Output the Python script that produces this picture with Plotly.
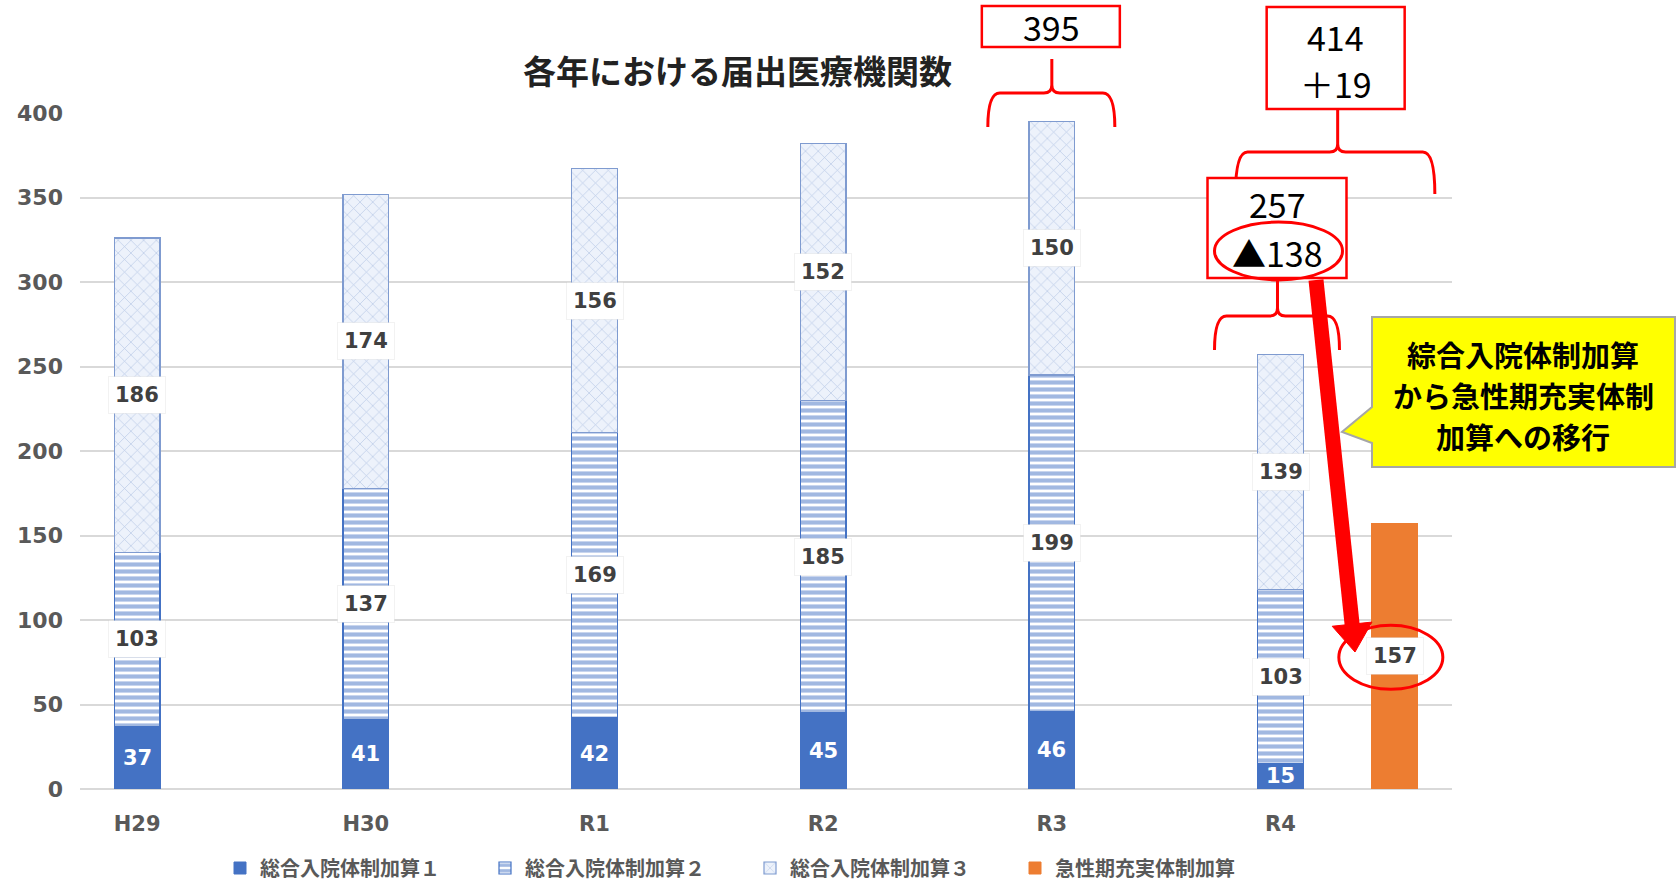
import plotly.graph_objects as go

# --- data -------------------------------------------------------------
categories = ["H29", "H30", "R1", "R2", "R3", "R4"]
kasan1 = [37, 41, 42, 45, 46, 15]
kasan2 = [103, 137, 169, 185, 199, 103]
kasan3 = [186, 174, 156, 152, 150, 139]
acute_value = [157]
series_names = ["総合入院体制加算１", "総合入院体制加算２", "総合入院体制加算３", "急性期充実体制加算"]
y_ticks = [0, 50, 100, 150, 200, 250, 300, 350, 400]

title_text = "各年における届出医療機関数"
callout_lines = ["綜合入院体制加算", "から急性期充実体制", "加算への移行"]

# --- derived values ---------------------------------------------------
positions = list(range(len(categories)))
acute_pos = positions[-1] + 0.5
totals = [a + b + c for a, b, c in zip(kasan1, kasan2, kasan3)]
total_r3 = totals[4]
total_r4 = totals[5]
combined_r4 = total_r4 + acute_value[0]

# --- geometry (pixels) -------------------------------------------------
FIG_W, FIG_H = 1677, 884
L, R, T, B = 80, 225, 113, 95
W, H = FIG_W - L - R, FIG_H - T - B
XR = [-0.25, 5.75]
YR = [0, 400]


def px_x(v):
    return L + (v - XR[0]) / (XR[1] - XR[0]) * W


def px_y(v):
    return T + H - (v - YR[0]) / (YR[1] - YR[0]) * H


def pap_x(px):
    return (px - L) / W


def pap_y(py):
    return (T + H - py) / H


def pt(x, y):
    return f"{pap_x(x):.5f},{pap_y(y):.5f}"


RED = "#FF0000"
BLUE = "#4472C4"
GREY = "#595959"
NUM_FONT = "DejaVu Sans"
JP_FONT = "Noto Sans CJK JP"

fig = go.Figure()

fig.add_bar(
    x=positions, y=kasan1, width=0.2, name=series_names[0],
    marker=dict(color=BLUE, line=dict(color=BLUE, width=1)),
    hoverinfo="skip",
)
fig.add_bar(
    x=positions, y=kasan2, width=0.2, name=series_names[1],
    marker=dict(
        color="white",
        pattern=dict(shape="-", fgcolor=BLUE, bgcolor="white", size=7, solidity=0.6),
        line=dict(color=BLUE, width=1.2),
    ),
    hoverinfo="skip",
)
fig.add_bar(
    x=positions, y=kasan3, width=0.2, name=series_names[2],
    marker=dict(
        color="#eaf0fa",
        pattern=dict(shape="x", fgcolor="#7f9bd0", bgcolor="#edf2fb", size=9, solidity=0.14),
        line=dict(color="#7f9bd0", width=1.2),
    ),
    hoverinfo="skip",
)
fig.add_bar(
    x=[acute_pos], y=acute_value, width=0.2, name=series_names[3],
    marker=dict(color="#ED7D31", line=dict(color="#ED7D31", width=1)),
    hoverinfo="skip",
)

annotations = []


def paper_text(x, y, text, font, **kw):
    annotations.append(dict(x=pap_x(x), y=pap_y(y), xref="paper", yref="paper", text=text,
                            showarrow=False, font=font, xanchor="center", yanchor="middle", **kw))


# value labels on the bars
box_font = dict(family=NUM_FONT, size=21, color="#404040", weight="bold")
box_style = dict(bgcolor="white", borderpad=6, bordercolor="rgba(0,0,0,0.05)", borderwidth=1)
for i, p in enumerate(positions):
    annotations.append(dict(
        x=p, y=kasan1[i] / 2, xref="x", yref="y", text=str(kasan1[i]), showarrow=False,
        font=dict(family=NUM_FONT, size=21, color="white", weight="bold"),
    ))
    annotations.append(dict(
        x=p, y=kasan1[i] + kasan2[i] / 2, xref="x", yref="y", text=str(kasan2[i]),
        showarrow=False, font=box_font, **box_style,
    ))
    annotations.append(dict(
        x=p, y=kasan1[i] + kasan2[i] + kasan3[i] / 2, xref="x", yref="y", text=str(kasan3[i]),
        showarrow=False, font=box_font, **box_style,
    ))
annotations.append(dict(
    x=acute_pos, y=acute_value[0] / 2, xref="x", yref="y", text=str(acute_value[0]),
    showarrow=False, font=box_font, **box_style,
))

# chart title
paper_text(737, 70, title_text, dict(family=JP_FONT, size=33, color="#222222", weight="bold"))

shapes = []


def brace(x0, x1, xc, y_bar, y_end, y_peak, r=12, r2=8):
    path = (
        f"M {pt(x0, y_end)} Q {pt(x0, y_bar)} {pt(x0 + r, y_bar)} "
        f"L {pt(xc - r2, y_bar)} Q {pt(xc, y_bar)} {pt(xc, y_bar - r2)} "
        f"L {pt(xc, y_peak)} M {pt(xc, y_bar - r2)} "
        f"Q {pt(xc, y_bar)} {pt(xc + r2, y_bar)} "
        f"L {pt(x1 - r, y_bar)} Q {pt(x1, y_bar)} {pt(x1, y_end)}"
    )
    shapes.append(dict(type="path", xref="paper", yref="paper", path=path,
                       line=dict(color=RED, width=3), layer="above"))


def red_box(x0, x1, y0, y1):
    shapes.append(dict(type="rect", xref="paper", yref="paper",
                       x0=pap_x(x0), x1=pap_x(x1), y0=pap_y(y1), y1=pap_y(y0),
                       line=dict(color=RED, width=2.5), fillcolor="white", layer="above"))


def ellipse(cx, cy, rx, ry):
    shapes.append(dict(type="circle", xref="paper", yref="paper",
                       x0=pap_x(cx - rx), x1=pap_x(cx + rx), y0=pap_y(cy + ry), y1=pap_y(cy - ry),
                       line=dict(color=RED, width=3), layer="above"))


big_font = dict(family=JP_FONT, size=34, color="black")

# R3 total
cx3 = px_x(positions[4])
brace(cx3 - 64, cx3 + 63, cx3, 93, 127, 59)
red_box(cx3 - 70, cx3 + 68, 6, 47)
paper_text(cx3, 27, str(total_r3), big_font)

# R4 combined total
cx4 = px_x(positions[5])
cxo = px_x(acute_pos)
cxm = (cx4 + cxo) / 2
brace(cx4 - 45, cxo + 40, cxm, 152, 194, 110)
red_box(cxm - 71, cxm + 67, 7, 109)
paper_text(cxm - 2, 36, str(combined_r4), big_font)
paper_text(cxm - 2, 83, f"＋{combined_r4 - total_r3}", big_font)

# R4 total and decrease
brace(cx4 - 66, cx4 + 59, cx4 - 3, 316, 350, 280)
red_box(cx4 - 73, cx4 + 66, 178, 278)
paper_text(cx4 - 3, 204, str(total_r4), big_font)
paper_text(cx4 - 3, 252, f"▲{total_r3 - total_r4}", big_font)
ellipse(cx4 - 2, 251, 64, 29)

# circle around the acute-care label
ellipse(cxo - 4, px_y(acute_value[0] / 2) + 1, 52, 32)

# thick red arrow
sx, sy = 1316, 280
tx, ty = 1355, 652
dx, dy = tx - sx, ty - sy
ln = (dx ** 2 + dy ** 2) ** 0.5
ux, uy = dx / ln, dy / ln
head_len, head_half = 28, 20
bx, by = tx - head_len * ux, ty - head_len * uy
shapes.append(dict(type="line", xref="paper", yref="paper",
                   x0=pap_x(sx), y0=pap_y(sy), x1=pap_x(bx + 2 * ux), y1=pap_y(by + 2 * uy),
                   line=dict(color=RED, width=15), layer="above"))
shapes.append(dict(type="path", xref="paper", yref="paper",
                   path=(f"M {pt(tx, ty)} L {pt(bx - head_half * uy, by + head_half * ux)} "
                         f"L {pt(bx + head_half * uy, by - head_half * ux)} Z"),
                   fillcolor=RED, line=dict(color=RED, width=1), layer="above"))

# yellow callout
shapes.append(dict(type="path", xref="paper", yref="paper",
                   path=(f"M {pt(1372, 317)} L {pt(1675, 317)} L {pt(1675, 467)} "
                         f"L {pt(1372, 467)} L {pt(1372, 443)} L {pt(1342, 432)} "
                         f"L {pt(1372, 407)} Z"),
                   fillcolor="#FFFF00", line=dict(color="#A6A6A6", width=2), layer="above"))
callout_font = dict(family=JP_FONT, size=29, color="black", weight="bold")
for k, line in enumerate(callout_lines):
    paper_text(1523, 354 + 41 * k, line, callout_font)

fig.update_layout(
    width=FIG_W, height=FIG_H,
    margin=dict(l=L, r=R, t=T, b=B, pad=0, autoexpand=False),
    paper_bgcolor="white", plot_bgcolor="white",
    barmode="stack",
    showlegend=True,
    legend=dict(
        orientation="h", x=pap_x(220), xanchor="left", y=pap_y(868), yanchor="middle",
        entrywidth=220, entrywidthmode="pixels", itemwidth=30, traceorder="normal",
        font=dict(family=JP_FONT, size=20, color=GREY, weight="bold"),
        bgcolor="rgba(0,0,0,0)",
    ),
    xaxis=dict(
        range=XR, tickvals=positions, ticktext=categories, showgrid=False, zeroline=False,
        showline=False, ticks="", ticklabelstandoff=20,
        tickfont=dict(family=NUM_FONT, size=21, color=GREY, weight="bold"),
    ),
    yaxis=dict(
        range=YR, tickvals=y_ticks, showgrid=True, gridcolor="#D9D9D9", gridwidth=1.5,
        zeroline=True, zerolinecolor="#D9D9D9", zerolinewidth=1.5, showline=False, ticks="",
        ticklabelstandoff=16,
        tickfont=dict(family=NUM_FONT, size=22, color=GREY, weight="bold"),
    ),
    annotations=annotations,
    shapes=shapes,
)

fig.write_html("out.html")
